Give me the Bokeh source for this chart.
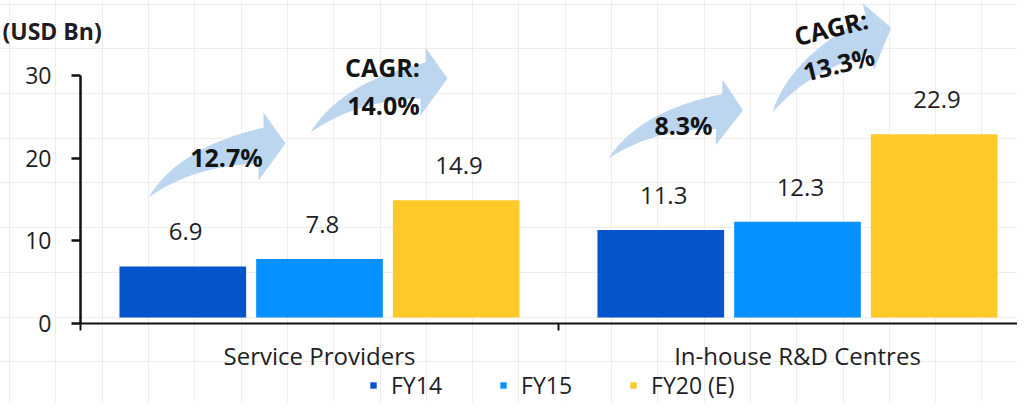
import numpy as np
from bokeh.plotting import figure
from bokeh.models import (ColumnDataSource, FixedTicker, Legend, LegendItem,
                          Label, Range1d)
from bokeh.core.properties import value
from bokeh.transform import dodge
from bokeh.embed import file_html
from bokeh.resources import INLINE

# ---------------- data ----------------
categories = ["Service Providers", "In-house R&D Centres"]
series_names = ["FY14", "FY15", "FY20 (E)"]
fy14 = [6.9, 11.3]
fy15 = [7.8, 12.3]
fy20 = [14.9, 22.9]
growth_14_15 = ["12.7%", "8.3%"]
cagr_15_20 = ["14.0%", "13.3%"]
y_ticks = [0, 10, 20, 30]
unit_label = "(USD Bn)"

colors = ["#0654cc", "#0791ff", "#ffc928"]
FONT = "Open Sans"
TXT = "#1e1e24"

W, H = 1017, 402
AX_X = 80             # canvas x of the value axis
PX_X = 478.0          # pixels per category
PX_Y = 8.267          # pixels per unit
Y0 = 323              # canvas y of value 0
x_start = -AX_X / PX_X
x_end = (W - AX_X) / PX_X
y_top = Y0 / PX_Y
y_bot = -(H - Y0) / PX_Y

p = figure(width=W, height=H, output_backend="svg", toolbar_location=None,
           x_range=Range1d(x_start, x_end), y_range=Range1d(y_bot, y_top),
           min_border_left=0, min_border_right=0, min_border_top=0,
           min_border_bottom=0)
p.outline_line_color = None
p.background_fill_color = "white"
p.border_fill_color = "white"

# faint sheet grid in background
gx = [(9.1 + 46.3 * k - AX_X) / PX_X for k in range(22)]
gy = [(Y0 - (3.6 + 44.7 * k)) / PX_Y for k in range(9)]
p.xgrid.ticker = FixedTicker(ticks=gx)
p.ygrid.ticker = FixedTicker(ticks=gy)
for g in (p.xgrid[0], p.ygrid[0]):
    g.grid_line_color = "#ededed"
    g.grid_line_width = 1

centers = [i + 0.5 for i in range(len(categories))]
src = ColumnDataSource(dict(xc=centers, fy14=fy14, fy15=fy15, fy20=fy20,
                            l14=[f"{v:.1f}" for v in fy14],
                            l15=[f"{v:.1f}" for v in fy15],
                            l20=[f"{v:.1f}" for v in fy20],
                            y14=[v + 4.2 for v in fy14],
                            y15=[v + 4.2 for v in fy15],
                            y20=[v + 4.2 for v in fy20]))

offs = [-0.286, 0.0, 0.286]
keys = ["fy14", "fy15", "fy20"]
lbl = ["l14", "l15", "l20"]
ly = ["y14", "y15", "y20"]
renderers = []
for k, off, col, lk, yk in zip(keys, offs, colors, lbl, ly):
    r = p.vbar(x=dodge("xc", off, range=p.x_range), top=k, bottom=0.72,
               width=0.265, source=src, fill_color=col, line_color=None)
    renderers.append(r)
    p.text(x=dodge("xc", off + 0.006, range=p.x_range), y=yk, text=lk,
           source=src, text_align="center", text_baseline="middle",
           text_font=value(FONT), text_font_size="24px", text_color=TXT)

# ---------------- axes ----------------
ya = p.yaxis[0]
ya.fixed_location = 0
ya.ticker = FixedTicker(ticks=y_ticks)
ya.bounds = (0, 30)
ya.axis_line_color = "#111111"
ya.axis_line_width = 2.5
ya.major_tick_line_color = "#111111"
ya.major_tick_line_width = 2.5
ya.major_tick_out = 9
ya.major_tick_in = 0
ya.minor_tick_line_color = None
ya.major_label_standoff = 20
ya.major_label_text_font = FONT
ya.major_label_text_font_size = "23px"
ya.major_label_text_color = TXT

xa = p.xaxis[0]
xa.fixed_location = 0
xa.bounds = (0, x_end)
xa.ticker = FixedTicker(ticks=centers, minor_ticks=[0, 1, 2])
xa.major_label_overrides = {c: n for c, n in zip(centers, categories)}
xa.axis_line_color = "#111111"
xa.axis_line_width = 2
xa.major_tick_out = 0
xa.major_tick_in = 0
xa.minor_tick_out = 7
xa.minor_tick_in = 0
xa.minor_tick_line_color = "#111111"
xa.minor_tick_line_width = 2
xa.major_label_standoff = 8
xa.major_label_text_font = FONT
xa.major_label_text_font_size = "24px"
xa.major_label_text_color = TXT

# ---------------- unit label ----------------
p.add_layout(Label(x=(2 - AX_X) / PX_X, y=(Y0 - 30) / PX_Y, text=unit_label,
                   text_align="left", text_baseline="middle",
                   text_font=FONT, text_font_size="23px",
                   text_font_style="bold", text_color=TXT))

# ---------------- growth arrows ----------------
def bez(p0, p1, p2, n=30):
    t = np.linspace(0, 1, n)[:, None]
    p0, p1, p2 = map(np.array, (p0, p1, p2))
    return (1 - t) ** 2 * p0 + 2 * (1 - t) * t * p1 + t ** 2 * p2

top_edge = bez((0, 0), (30, 50), (115, 70))
head = np.array([(115, 85), (137, 54), (110, 17)])
bot_edge = bez((110, 34), (45, 32), (0, 0))
tmpl = np.vstack([top_edge, head, bot_edge])

def arrow(tx, ty, rot_deg, scale):
    th = np.radians(rot_deg)
    xs = tmpl[:, 0] * np.cos(th) - tmpl[:, 1] * np.sin(th)
    ys = tmpl[:, 0] * np.sin(th) + tmpl[:, 1] * np.cos(th)
    return list(tx + xs * scale / PX_X), list(ty + ys * scale / PX_Y)

# anchors (tail) in data units, rotation and scale
arrow_specs = [(0.1423, 15.24, 0.0, 1.0),
               (0.4812, 23.10, 0.0, 1.0),
               (1.1046, 19.96, -1.8, 0.97),
               (1.4477, 25.52, 14.0, 0.99)]
axs, ays = [], []
for spec in arrow_specs:
    a, b = arrow(*spec)
    axs.append(a)
    ays.append(b)
p.patches(axs, ays, fill_color="#bcd6f0", line_color=None)

atext = dict(x=[0.3054, 0.6318, 0.6339, 1.2615, 1.5700, 1.5858],
             y=[20.20, 30.97, 26.49, 24.07, 35.80, 31.45],
             t=[growth_14_15[0], "CAGR:", cagr_15_20[0], growth_14_15[1],
                "CAGR:", cagr_15_20[1]],
             a=[0, 0, 0, 0, 0.24, 0.24])
p.text(x="x", y="y", text="t", angle="a", source=ColumnDataSource(atext),
       text_align="center", text_baseline="middle", text_font=value(FONT),
       text_font_size="25px", text_font_style="bold", text_color="#141414")

# ---------------- legend ----------------
legend = Legend(items=[LegendItem(label=n, renderers=[r])
                       for n, r in zip(series_names, renderers)],
                orientation="horizontal", location=(369, 1),
                glyph_width=8, glyph_height=8, label_standoff=14, spacing=57,
                padding=0, margin=0, border_line_color=None,
                background_fill_alpha=0, label_text_font=FONT,
                label_text_font_size="23px", label_text_color=TXT)
p.add_layout(legend, "center")

open("out.html", "w").write(file_html(p, INLINE))
